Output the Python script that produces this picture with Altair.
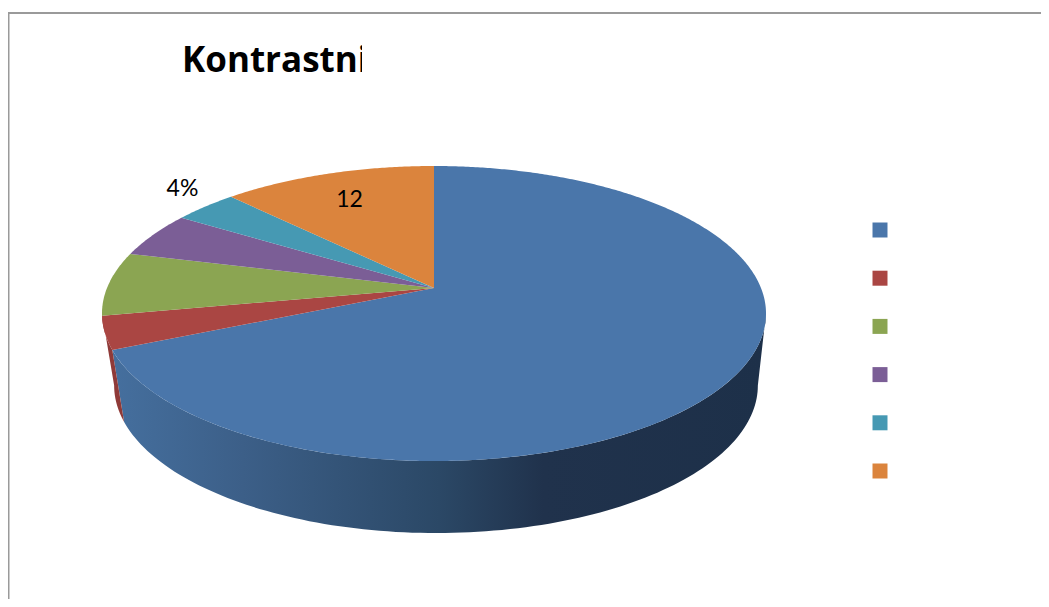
import numpy as np
import pandas as pd
import altair as alt

categories = ["1", "2", "3", "4", "5", "6"]
shares = [68.4, 3.6, 7.0, 5.0, 3.7, 12.3]
colors = ["#4a76aa", "#aa4643", "#8ba552", "#7b5e96", "#4699b3", "#db843d"]
title_text = "Kontrastni"
label_texts = ["4%", "12"]

# perspective disc: centre, radii and tilt of the top face and of the lower rim
K = 0.173
TOP = dict(cx=434.0, cy=288.0, ax=327.0, ay=143.1)
LOW = dict(cx=436.0, cy=360.0, ax=317.0, ay=143.1)
RIM_RIGHT, RIM_LEFT = 100.0, 260.0


def rim(face, deg):
    t = np.radians(np.asarray(deg, dtype=float))
    u, v = np.sin(t), np.cos(t)
    d = 1 + K * v
    return face["cx"] + face["ax"] * u / d, face["cy"] - face["ay"] * v / d


edges = np.concatenate([[0], np.cumsum(shares)]) * 3.6

top_rows = []
for i, c in enumerate(categories):
    a = np.linspace(edges[i], edges[i + 1], max(3, int(edges[i + 1] - edges[i]) * 2))
    xs, ys = rim(TOP, a)
    xs = np.concatenate([[TOP["cx"]], xs, [TOP["cx"]]])
    ys = np.concatenate([[TOP["cy"]], ys, [TOP["cy"]]])
    for j, (x, y) in enumerate(zip(xs, ys)):
        top_rows.append({"cat": c, "i": j, "x": x, "y": y})
top_df = pd.DataFrame(top_rows)


def wall(a0, a1):
    a = np.linspace(a0, a1, 120)
    x1, y1 = rim(TOP, a)
    x2, y2 = rim(LOW, a[::-1])
    xs = np.concatenate([x1, x2, x1[:1]])
    ys = np.concatenate([y1, y2, y1[:1]])
    return pd.DataFrame({"i": range(len(xs)), "x": xs, "y": ys})


X = alt.X("x:Q", scale=alt.Scale(domain=[8, 1041], nice=False, zero=False), axis=None)
Y = alt.Y("y:Q", scale=alt.Scale(domain=[8, 599], nice=False, zero=False, reverse=True), axis=None)

blue_wall = alt.Chart(wall(RIM_RIGHT, edges[1])).mark_line(
    strokeWidth=0,
    fill=alt.Gradient(
        gradient="linear", x1=0, x2=1, y1=0, y2=0,
        stops=[
            alt.GradientStop(offset=0.0, color="#456f9e"),
            alt.GradientStop(offset=0.2, color="#3c5f88"),
            alt.GradientStop(offset=0.5, color="#2b4866"),
            alt.GradientStop(offset=0.66, color="#20324c"),
            alt.GradientStop(offset=1.0, color="#1d3049"),
        ],
    ),
).encode(x=X, y=Y, order="i:Q")

red_wall = alt.Chart(wall(edges[1], RIM_LEFT)).mark_line(
    strokeWidth=0, fill="#8f3a38"
).encode(x=X, y=Y, order="i:Q")

top = alt.Chart(top_df).mark_line(strokeWidth=0).encode(
    x=X, y=Y, order="i:Q", detail="cat:N",
    fill=alt.Fill(
        "cat:N",
        scale=alt.Scale(domain=categories, range=colors),
        legend=alt.Legend(
            title=None, orient="none", legendX=864.5, legendY=214.5,
            symbolType="square", symbolSize=225, symbolStrokeWidth=0,
            rowPadding=33.2, labelExpr="''", padding=0, symbolOpacity=1,
        ),
    ),
)

title_mark = alt.Chart(pd.DataFrame({"t": [title_text], "x": [182], "y": [72]})).mark_text(
    font="Open Sans", fontWeight="bold", fontSize=35, align="left", baseline="alphabetic", color="#000000"
).encode(x=X, y=Y, text="t:N")

mask = alt.Chart(pd.DataFrame({"x": [362], "x2": [430], "y": [30], "y2": [90]})).mark_rect(color="#ffffff").encode(
    x=X, x2="x2:Q", y=Y, y2="y2:Q"
)

lab = alt.Chart(pd.DataFrame({"t": label_texts, "x": [182.5, 349.5], "y": [196, 207]})).mark_text(
    font="Lato", fontSize=23, align="center", baseline="alphabetic", color="#000000"
).encode(x=X, y=Y, text="t:N")

frame_top = alt.Chart(pd.DataFrame({"x": [8], "x2": [1041], "y": [13]})).mark_rule(color="#9a9a9a", strokeWidth=2).encode(
    x=X, x2="x2:Q", y=Y
)
frame_left = alt.Chart(pd.DataFrame({"x": [8.5], "y": [13], "y2": [599]})).mark_rule(color="#9a9a9a", strokeWidth=2).encode(
    x=X, y=Y, y2="y2:Q"
)

chart = alt.layer(
    frame_top, frame_left, blue_wall, red_wall, top, title_mark, mask, lab
).properties(
    width=1033, height=591, padding=0, autosize=alt.AutoSizeParams(type="none"), background="#ffffff"
).configure_view(stroke=None)

chart.save("out.html", embed_options={"renderer": "svg", "actions": False})
